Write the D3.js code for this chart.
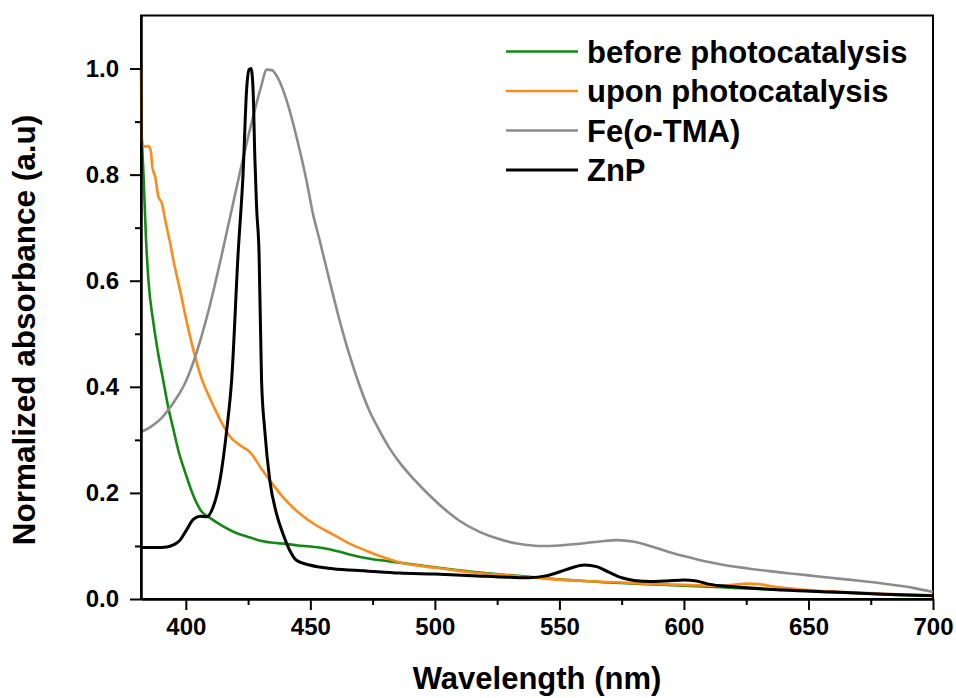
<!DOCTYPE html>
<html>
<head>
	<meta charset="utf-8"/>
	<style type="text/css">
		body {
			margin: 0;
			background: white;
		}
		svg text {
			font-family: "Liberation Sans", Arial, sans-serif;
			font-weight: bold;
			fill: black;
		}
		.axis path, .axis line {
			stroke: black;
			stroke-width: 2;
		}
	</style>
</head>
<body>
	<svg id="graph_area" width="956" height="698"></svg>

	<script src="https://d3js.org/d3.v7.min.js"></script>
	<script>
		// 読み取った値 (波長 nm / 規格化吸光度)
		let beforeX = [382,383,384,385,387,389,391,393,395,397,400,403,406,410,415,420,425,430,435,440,445,450,455,460,465,470,475,480,485,490,500,510,520,530,540,550,560,570,580,590,600,610,620,630,640,650,660,670,680,690,700];
		let beforeY = [0.90,0.80,0.68,0.60,0.52,0.46,0.41,0.36,0.32,0.28,0.235,0.195,0.167,0.152,0.137,0.125,0.117,0.110,0.106,0.104,0.101,0.099,0.096,0.091,0.085,0.079,0.075,0.072,0.069,0.066,0.060,0.054,0.049,0.045,0.041,0.037,0.034,0.031,0.029,0.027,0.025,0.023,0.021,0.019,0.017,0.015,0.013,0.011,0.009,0.007,0.006];

		let uponX = [382,382.4,383.5,385,386,386.5,387.7,389,390.4,391.7,393.7,395,398,400,403,406,410,414,418,422,426,430,434,439,445,452,459,466,472,479,486,495,505,515,530,545,560,575,590,605,615,620,625,630,635,645,660,680,700];
		let uponY = [1.0,0.86,0.853,0.854,0.843,0.815,0.796,0.758,0.746,0.715,0.671,0.639,0.575,0.53,0.47,0.42,0.375,0.336,0.305,0.289,0.276,0.248,0.222,0.192,0.164,0.140,0.122,0.104,0.092,0.079,0.069,0.062,0.056,0.050,0.044,0.038,0.034,0.031,0.028,0.026,0.025,0.027,0.029,0.028,0.024,0.019,0.014,0.010,0.007];

		let feX = [382,386,390,395,400,405,410,414,418,422,426,430,432.5,434.5,437,440.4,444.4,448.4,451,453.7,457.7,461.7,465.7,469.7,473.7,477.7,481.7,485.7,491.7,497.7,503.7,509.7,517.7,525.7,533.7,541.7,550,560,567,573,580,587,595,605,615,625,635,645,655,665,675,685,692,700];
		let feY = [0.315,0.325,0.34,0.37,0.41,0.475,0.56,0.64,0.725,0.81,0.89,0.962,0.998,0.997,0.982,0.941,0.872,0.79,0.727,0.677,0.60,0.526,0.46,0.403,0.355,0.318,0.285,0.258,0.225,0.196,0.17,0.148,0.127,0.113,0.104,0.100,0.101,0.105,0.109,0.111,0.108,0.099,0.087,0.075,0.065,0.058,0.052,0.047,0.042,0.037,0.032,0.026,0.021,0.013];

		let znpX = [382,388,392.4,395,397.7,400,403,405.7,408.4,411,413.7,416.4,418.4,421,423,424.4,425.4,426.2,427,427.7,428.4,429.4,430.4,431.7,433.7,436.4,439,441.7,444.4,449.7,459,472.4,485.7,500,515,530,538,545,550,555,560,565,570,575,580,587,593,600,605,610,620,640,660,680,700];
		let znpY = [0.097,0.097,0.098,0.102,0.111,0.128,0.150,0.156,0.155,0.174,0.224,0.318,0.413,0.652,0.803,0.96,0.998,1.0,0.96,0.834,0.74,0.652,0.413,0.318,0.224,0.161,0.123,0.092,0.073,0.064,0.057,0.053,0.049,0.047,0.044,0.041,0.040,0.044,0.051,0.059,0.064,0.061,0.050,0.040,0.035,0.033,0.034,0.036,0.034,0.028,0.023,0.017,0.013,0.009,0.006];

		let seriesNames = ["before photocatalysis", "upon photocatalysis", "Fe(o-TMA)", "ZnP"];
		let seriesColors = ["#128a12", "#fb8c1c", "#8c8c8c", "#000000"];

		let xTicks = [400, 450, 500, 550, 600, 650, 700];
		let xMinor = [425, 475, 525, 575, 625, 675];
		let yTicks = [0.0, 0.2, 0.4, 0.6, 0.8, 1.0];
		let yMinor = [0.1, 0.3, 0.5, 0.7, 0.9];

		let series = [
			{name: seriesNames[0], color: seriesColors[0], xs: beforeX, ys: beforeY, w: 2.6},
			{name: seriesNames[1], color: seriesColors[1], xs: uponX, ys: uponY, w: 2.6},
			{name: seriesNames[2], color: seriesColors[2], xs: feX, ys: feY, w: 2.6},
			{name: seriesNames[3], color: seriesColors[3], xs: znpX, ys: znpY, w: 3}
		];

		let svg = d3.select("#graph_area");
		let plotLeft = 141, plotRight = 933, plotTop = 15.5, plotBottom = 599;

		let xScale = d3.scaleLinear().domain([382, 700]).range([plotLeft, plotRight]);
		let yScale = d3.scaleLinear().domain([0, 1.1]).range([plotBottom, plotTop]);

		// 枠
		svg.append("rect")
		   .attr("x", plotLeft).attr("y", plotTop)
		   .attr("width", plotRight - plotLeft).attr("height", plotBottom - plotTop)
		   .attr("fill", "none").attr("stroke", "black").attr("stroke-width", 2);

		// 曲線
		let line = d3.line()
				  .x(function(d) { return xScale(d[0]); })
				  .y(function(d) { return yScale(d[1]); })
				  .curve(d3.curveMonotoneX);

		svg.append("g")
		   .selectAll("path")
		   .data(series)
		   .enter()
		   .append("path")
		   .attr("d", function(s) { return line(d3.zip(s.xs, s.ys)); })
		   .attr("fill", "none")
		   .attr("stroke", function(s) { return s.color; })
		   .attr("stroke-width", function(s) { return s.w; })
		   .attr("stroke-linejoin", "round");

		// 軸
		svg.append("g")
		   .attr("class", "axis")
		   .attr("transform", `translate(0, ${plotBottom})`)
		   .call(d3.axisBottom(xScale).tickValues(xMinor).tickSize(6).tickSizeOuter(0).tickFormat(""));

		let xAxis = svg.append("g")
		   .attr("class", "axis")
		   .attr("transform", `translate(0, ${plotBottom})`)
		   .call(d3.axisBottom(xScale).tickValues(xTicks).tickSize(11).tickSizeOuter(0).tickPadding(8).tickFormat(d3.format("d")));
		xAxis.selectAll("text").style("font-size", "24px");

		svg.append("g")
		   .attr("class", "axis")
		   .attr("transform", `translate(${plotLeft}, 0)`)
		   .call(d3.axisLeft(yScale).tickValues(yMinor).tickSize(6).tickSizeOuter(0).tickFormat(""));

		let yAxis = svg.append("g")
		   .attr("class", "axis")
		   .attr("transform", `translate(${plotLeft}, 0)`)
		   .call(d3.axisLeft(yScale).tickValues(yTicks).tickSize(11).tickSizeOuter(0).tickPadding(11).tickFormat(d3.format(".1f")));
		yAxis.selectAll("text").style("font-size", "24px");

		// 軸ラベル
		svg.append("text")
		   .attr("x", (plotLeft + plotRight) / 2)
		   .attr("y", 689)
		   .attr("text-anchor", "middle")
		   .style("font-size", "31px")
		   .text("Wavelength (nm)");

		svg.append("text")
		   .attr("transform", "translate(35, 330) rotate(-90)")
		   .attr("text-anchor", "middle")
		   .style("font-size", "31.5px")
		   .text("Normalized absorbance (a.u)");

		// 凡例
		let legend = svg.append("g")
		   .selectAll("g")
		   .data(series)
		   .enter()
		   .append("g")
		   .attr("transform", function(s, i) { return `translate(0, ${51.5 + i * 39.5})`; });

		legend.append("line")
		   .attr("x1", 506).attr("x2", 578)
		   .attr("stroke", function(s) { return s.color; })
		   .attr("stroke-width", function(s) { return s.w; });

		let legendText = legend.append("text")
		   .attr("x", 587)
		   .attr("dy", "0.36em")
		   .style("font-size", "31px");

		legendText.each(function(s) {
			let t = d3.select(this);
			if (s.name == "Fe(o-TMA)") {
				t.append("tspan").text("Fe(");
				t.append("tspan").style("font-style", "italic").text("o");
				t.append("tspan").text("-TMA)");
			}
			else t.text(s.name);
		});
	</script>
</body>
</html>
